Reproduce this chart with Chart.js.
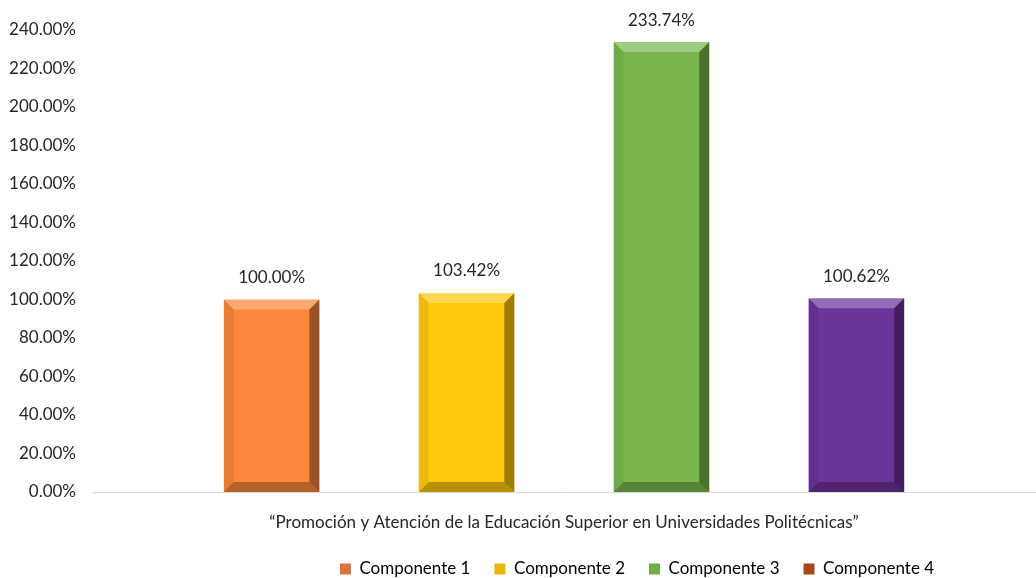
<!DOCTYPE html>
<html>
<head>
<meta charset="utf-8">
<script src="https://cdn.jsdelivr.net/npm/chart.js@4"></script>
<style>
  html, body { margin: 0; padding: 0; background: #fff; }
  #wrap { width: 1036px; height: 578px; }
</style>
</head>
<body>
<div id="wrap"><canvas id="grafica"></canvas></div>
<script>
// Datos
const categorias = ['\u201CPromoci\u00F3n y Atenci\u00F3n de la Educaci\u00F3n Superior en Universidades Polit\u00E9cnicas\u201D'];
const componentes = ['Componente 1', 'Componente 2', 'Componente 3', 'Componente 4'];
const valores = [100.00, 103.42, 233.74, 100.62];
const coloresBarra = ['#FA873B', '#FFC90C', '#79B74C', '#6C3399'];
const coloresLeyenda = ['#D9743C', '#E8B70D', '#70AD47', '#A6481B'];
const ticksY = [0, 20, 40, 60, 80, 100, 120, 140, 160, 180, 200, 220, 240];

const fuente = 'Lato, "Open Sans", sans-serif';

// biselado tipo Excel sobre cada barra
const bisel = {
    id: 'bisel',
    afterDatasetsDraw(chart) {
        const ctx = chart.ctx;
        const b = 10;
        ctx.save();
        chart.data.datasets.forEach((ds, i) => {
            chart.getDatasetMeta(i).data.forEach((bar) => {
                const l = bar.x - bar.width / 2, r = bar.x + bar.width / 2;
                const t = bar.y, bo = bar.base;
                const poly = (pts, color) => {
                    ctx.beginPath();
                    ctx.moveTo(pts[0][0], pts[0][1]);
                    pts.slice(1).forEach(p => ctx.lineTo(p[0], p[1]));
                    ctx.closePath();
                    ctx.fillStyle = color;
                    ctx.fill();
                };
                poly([[l, t], [r, t], [r - b, t + b], [l + b, t + b]], 'rgba(255,255,255,0.28)');
                poly([[r, t], [r, bo], [r - b, bo - b], [r - b, t + b]], 'rgba(0,0,0,0.38)');
                poly([[l, bo], [r, bo], [r - b, bo - b], [l + b, bo - b]], 'rgba(0,0,0,0.28)');
                poly([[l, t], [l + b, t + b], [l + b, bo - b], [l, bo]], 'rgba(0,0,0,0.07)');
            });
        });
        ctx.restore();
    }
};

// etiquetas encima de cada barra
const etiquetas = {
    id: 'etiquetas',
    afterDatasetsDraw(chart) {
        const ctx = chart.ctx;
        ctx.save();
        ctx.font = '17px ' + fuente;
        ctx.fillStyle = '#262626';
        ctx.textAlign = 'center';
        ctx.textBaseline = 'middle';
        chart.data.datasets.forEach((ds, i) => {
            chart.getDatasetMeta(i).data.forEach((bar, j) => {
                ctx.fillText(ds.data[j].toFixed(2) + '%', bar.x, bar.y - 22);
            });
        });
        ctx.restore();
    }
};

// la leyenda del original esta corrida hacia la derecha
const moverLeyenda = {
    id: 'moverLeyenda',
    afterLayout(chart) {
        const lg = chart.legend;
        if (!lg) return;
        lg.left += 116;
        lg.right += 116;
    }
};

const datasets = componentes.map((nombre, i) => ({
    label: nombre,
    data: [valores[i]],
    backgroundColor: coloresBarra[i],
    borderWidth: 0,
    categoryPercentage: 0.826,
    barPercentage: 0.49
}));

new Chart(document.getElementById('grafica'), {
    type: 'bar',
    data: { labels: categorias, datasets: datasets },
    plugins: [bisel, etiquetas, moverLeyenda],
    options: {
        responsive: true,
        maintainAspectRatio: false,
        animation: false,
        layout: { padding: { left: 0, right: -6, top: 30, bottom: -9.5 } },
        plugins: {
            tooltip: { enabled: false },
            legend: {
                position: 'bottom',
                labels: {
                    font: { family: fuente, size: 17 },
                    color: '#1a1a1a',
                    boxWidth: 11,
                    boxHeight: 11,
                    padding: 24,
                    generateLabels: (chart) => componentes.map((nombre, i) => ({
                        text: nombre,
                        fillStyle: coloresLeyenda[i],
                        strokeStyle: coloresLeyenda[i],
                        lineWidth: 0,
                        datasetIndex: i
                    }))
                }
            }
        },
        scales: {
            x: {
                grid: { display: false },
                border: { color: '#D9D9D9', width: 1 },
                ticks: {
                    color: '#262626',
                    font: { family: fuente, size: 17 },
                    padding: 12,
                    maxRotation: 0
                },
                afterFit: (axis) => { axis.height = 44.5; }
            },
            y: {
                min: 0,
                max: 240,
                grid: { display: false },
                border: { display: false },
                afterBuildTicks: (axis) => { axis.ticks = ticksY.map(v => ({ value: v })); },
                ticks: {
                    color: '#262626',
                    font: { family: fuente, size: 17 },
                    padding: 8,
                    callback: (v) => v.toFixed(2) + '%'
                },
                afterFit: (axis) => { axis.width = 92; }
            }
        }
    }
});
</script>
</body>
</html>
